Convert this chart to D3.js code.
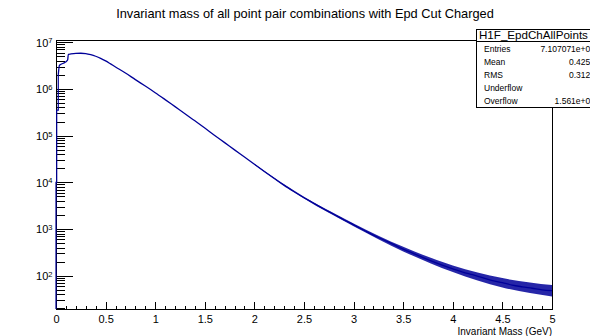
<!DOCTYPE html>
<html lang="en">
<head>
  <meta charset="UTF-8">
  <title>Invariant mass</title>
  <script src="https://d3js.org/d3.v7.min.js"></script>
  <style>
    body {
      margin: 0;
      background-color: #ffffff;
      font-family: "Liberation Sans", Arial, sans-serif;
    }
    svg {
      display: block;
    }
    .axis path, .axis line {
      stroke: #000;
      shape-rendering: crispEdges;
    }
    .axis text {
      font-family: "Liberation Sans", Arial, sans-serif;
      fill: #000;
    }
  </style>
</head>
<body>
  <svg id="chart"></svg>
  <script>
    // first bins (drawn as steps)
    const headMass = [0, 0.007, 0.023];
    const headCount = [1.0e4, 3.5e5, 2.0e6];

    // rest of the histogram
    const mass = [0.023, 0.035, 0.074, 0.1, 0.118, 0.124, 0.15, 0.2, 0.25, 0.3, 0.35, 0.4, 0.45, 0.5, 0.55,
      0.6, 0.7, 0.8, 0.9, 1.0, 1.1, 1.2, 1.3, 1.4, 1.5, 1.6, 1.7, 1.8, 1.9, 2.0,
      2.1, 2.2, 2.3, 2.4, 2.5, 2.6, 2.7, 2.8, 2.9, 3.0, 3.1, 3.2, 3.3, 3.4, 3.5,
      3.6, 3.7, 3.8, 3.9, 4.0, 4.1, 4.2, 4.3, 4.4, 4.5, 4.6, 4.7, 4.8, 4.9, 5.0];
    const counts = [2.0e6, 3.2e6, 3.55e6, 3.8e6, 4.2e6, 5.5e6, 5.6e6, 5.75e6, 5.8e6, 5.7e6, 5.4e6, 5.0e6, 4.52e6, 3.98e6, 3.43e6,
      2.95e6, 2.19e6, 1.58e6, 1.15e6, 8.3e5, 5.9e5, 4.17e5, 2.95e5, 2.07e5, 1.45e5, 1.01e5, 7.08e4, 4.95e4, 3.47e4, 2.43e4,
      1.71e4, 1.21e4, 8.6e3, 6.3e3, 4.68e3, 3.55e3, 2.69e3, 2.07e3, 1.58e3, 1230, 955, 740, 590, 468, 372,
      302, 245, 200, 166, 141, 120, 105, 91, 79, 71, 63, 58, 54, 50, 48];

    // spread of the noisy tail (low / high envelope)
    const bandMass = [2.0, 2.5, 3.0, 3.5, 4.0, 4.5, 5.0];
    const bandLo = [2.37e4, 4.5e3, 1150, 332, 120, 56, 36];
    const bandHi = [2.49e4, 4.88e3, 1320, 417, 165, 89, 63];

    const xTickLabels = ["0", "0.5", "1", "1.5", "2", "2.5", "3", "3.5", "4", "4.5", "5"];
    const yDecades = [2, 3, 4, 5, 6, 7];

    const statsTitle = "H1F_EpdChAllPoints";
    const statsNames = ["Entries", "Mean", "RMS", "Underflow", "Overflow"];
    const statsValues = ["7.107071e+07", "0.4254", "0.3121", "", "1.561e+05"];

    const W = 590, H = 336;
    const margin = { top: 40, right: 38, bottom: 27, left: 56 };
    const x0 = margin.left, x1 = W - margin.right;
    const y0 = H - margin.bottom, y1 = margin.top;
    const blue = "#000099";

    const svg = d3.select("#chart").attr("width", W).attr("height", H);

    const x = d3.scaleLinear().domain([0, 5]).range([x0, x1]);
    const y = d3.scaleLog().domain([19.4, 1.114e7]).range([y0, y1]);

    // title
    svg.append("text")
      .attr("x", 305)
      .attr("y", 15)
      .attr("text-anchor", "middle")
      .attr("dominant-baseline", "middle")
      .style("font-size", "12.8px")
      .text("Invariant mass of all point pair combinations with Epd Cut Charged");

    // frame
    svg.append("rect")
      .attr("x", x0 + 0.5)
      .attr("y", y1 + 0.5)
      .attr("width", x1 - x0)
      .attr("height", y0 - y1)
      .attr("fill", "none")
      .attr("stroke", "#000")
      .attr("stroke-width", 1);

    // x axis: minor and major ticks pointing up
    const xMinor = d3.range(0, 51).map(i => i / 10);
    const xMajor = xTickLabels.map(Number);

    svg.append("g")
      .attr("class", "axis")
      .attr("transform", `translate(0,${y0 + 0.5})`)
      .call(d3.axisBottom(x).tickValues(xMinor).tickSize(-4).tickFormat(""))
      .call(g => g.select(".domain").remove());

    const xAxis = svg.append("g")
      .attr("class", "axis")
      .attr("transform", `translate(0,${y0 + 0.5})`)
      .call(d3.axisBottom(x).tickValues(xMajor).tickSize(-8).tickPadding(6)
        .tickFormat((d, i) => xTickLabels[i]));
    xAxis.select(".domain").remove();
    xAxis.selectAll("text").style("font-size", "11px");

    svg.append("text")
      .attr("x", x1)
      .attr("y", 334.5)
      .attr("text-anchor", "end")
      .style("font-size", "10px")
      .text("Invariant Mass (GeV)");

    // y axis: log ticks pointing right
    const yMinor = [];
    [1, 2, 3, 4, 5, 6].forEach(n => {
      for (let k = 2; k <= 9; k++) {
        const v = k * Math.pow(10, n);
        if (v >= y.domain()[0] && v <= y.domain()[1]) yMinor.push(v);
      }
    });
    const yMajor = yDecades.map(n => Math.pow(10, n));

    svg.append("g")
      .attr("class", "axis")
      .attr("transform", `translate(${x0 + 0.5},0)`)
      .call(d3.axisLeft(y).tickValues(yMinor).tickSize(-8).tickFormat(""))
      .call(g => g.select(".domain").remove());

    const yAxis = svg.append("g")
      .attr("class", "axis")
      .attr("transform", `translate(${x0 + 0.5},0)`)
      .call(d3.axisLeft(y).tickValues(yMajor).tickSize(-16).tickPadding(8).tickFormat(""));
    yAxis.select(".domain").remove();

    yAxis.selectAll(".tick").each(function(d, i) {
      const t = d3.select(this).select("text")
        .attr("x", -4)
        .attr("dy", "0.35em")
        .attr("text-anchor", "end")
        .style("font-size", "11px");
      t.append("tspan").text("10");
      t.append("tspan")
        .attr("dy", "-0.45em")
        .style("font-size", "7.5px")
        .text(yDecades[i]);
    });

    // histogram
    const plot = svg.append("g");

    const band = [];
    bandMass.forEach((m, i) => band.push({ m: m, lo: bandLo[i], hi: bandHi[i] }));
    plot.append("path")
      .datum(band)
      .attr("fill", blue)
      .attr("fill-opacity", 0.85)
      .attr("d", d3.area()
        .curve(d3.curveMonotoneX)
        .x(d => x(d.m))
        .y0(d => y(d.lo))
        .y1(d => y(d.hi)));

    const head = headMass.map((m, i) => ({ m: m, c: headCount[i] }));
    head.unshift({ m: 0, c: y.domain()[0] });
    plot.append("path")
      .datum(head)
      .attr("fill", "none")
      .attr("stroke", blue)
      .attr("stroke-width", 1.2)
      .attr("d", d3.line()
        .curve(d3.curveStepAfter)
        .x(d => x(d.m))
        .y(d => y(d.c)));

    const body = mass.map((m, i) => ({ m: m, c: counts[i] }));
    plot.append("path")
      .datum(body)
      .attr("fill", "none")
      .attr("stroke", blue)
      .attr("stroke-width", 1.3)
      .attr("d", d3.line()
        .curve(d3.curveMonotoneX)
        .x(d => x(d.m))
        .y(d => y(d.c)));

    // stats box
    const sx = 476, sy = 29.5, sw = 130, sh = 78;
    const stats = svg.append("g");
    stats.append("rect")
      .attr("x", sx + 0.5)
      .attr("y", sy)
      .attr("width", sw)
      .attr("height", sh)
      .attr("fill", "#fff")
      .attr("stroke", "#000");
    stats.append("line")
      .attr("x1", sx).attr("x2", sx + sw)
      .attr("y1", sy + 12).attr("y2", sy + 12)
      .attr("stroke", "#000");
    stats.append("text")
      .attr("x", sx + 3)
      .attr("y", sy + 6.5)
      .attr("dominant-baseline", "middle")
      .style("font-size", "11.6px")
      .text(statsTitle);

    const rowY = [50, 63, 76, 89, 102];
    statsNames.forEach((name, i) => {
      stats.append("text")
        .attr("x", 484)
        .attr("y", rowY[i])
        .attr("dominant-baseline", "middle")
        .style("font-size", "8.5px")
        .text(name);
      stats.append("text")
        .attr("x", 595)
        .attr("y", rowY[i])
        .attr("text-anchor", "end")
        .attr("dominant-baseline", "middle")
        .style("font-size", "8.5px")
        .text(statsValues[i]);
    });
  </script>
</body>
</html>
